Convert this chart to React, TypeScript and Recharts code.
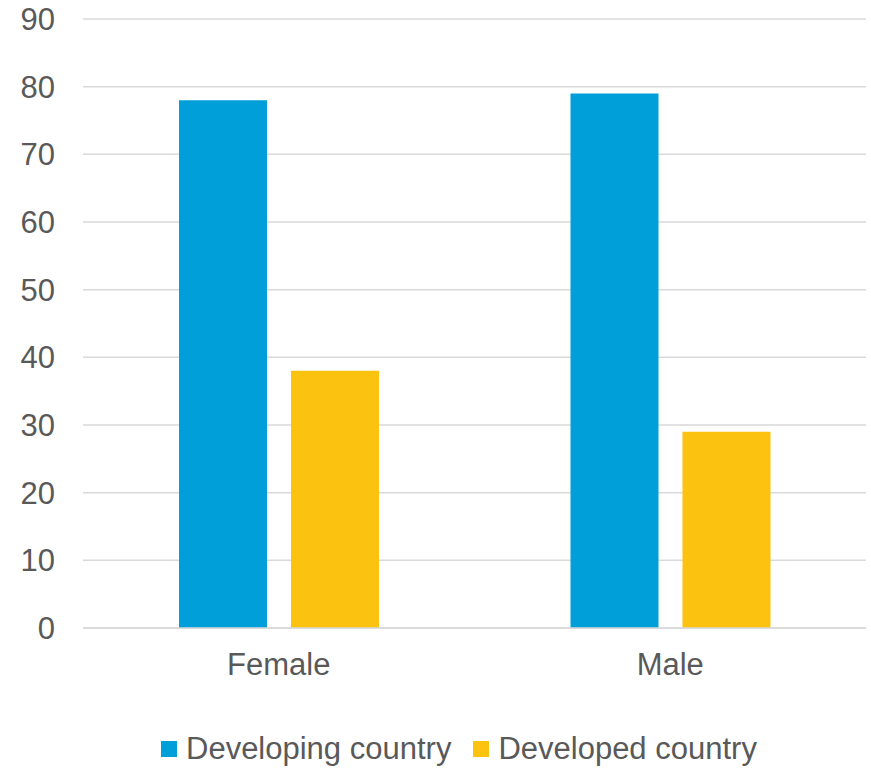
import { Bar, BarChart, CartesianGrid, Legend, XAxis, YAxis } from "recharts";

const categories = ["Female", "Male"];
const developing = [78, 79];
const developed = [38, 29];
const yTicks = [0, 10, 20, 30, 40, 50, 60, 70, 80, 90];

const SERIES = [
  { key: "developing", name: "Developing country", color: "#009FDA" },
  { key: "developed", name: "Developed country", color: "#FBC20F" },
];

const data = categories.map((c, i) => ({
  category: c,
  developing: developing[i],
  developed: developed[i],
}));

const TEXT = "#595959";
const FONT = "'Liberation Sans', Arial, sans-serif";

function ChartLegend() {
  return (
    <div
      style={{
        height: 40,
        display: "flex",
        alignItems: "center",
        paddingLeft: 161,
        fontFamily: FONT,
        fontSize: 31,
        color: TEXT,
      }}
    >
      {SERIES.map((s, i) => (
        <div key={s.key} style={{ display: "flex", alignItems: "center", marginRight: i === 0 ? 22 : 0 }}>
          <span style={{ width: 16, height: 16, background: s.color, marginRight: 9, display: "inline-block" }} />
          <span style={{ lineHeight: "40px" }}>{s.name}</span>
        </div>
      ))}
    </div>
  );
}

export default function App() {
  return (
    <div style={{ position: "absolute", left: 0, top: 0, width: 871, height: 769, background: "#fff" }}>
      <BarChart
        width={871}
        height={769}
        data={data}
        margin={{ top: 19, right: 5, bottom: 0, left: 0 }}
        barSize={88}
        barGap={24}
      >
        <CartesianGrid vertical={false} stroke="#D9D9D9" strokeWidth={1.5} />
        <XAxis
          dataKey="category"
          height={101}
          axisLine={{ stroke: "#D9D9D9", strokeWidth: 1.5 }}
          tickLine={false}
          tickSize={0}
          tickMargin={25}
          tick={{ fill: TEXT, fontSize: 31, fontFamily: FONT }}
        />
        <YAxis
          width={83}
          domain={[0, 90]}
          ticks={yTicks}
          axisLine={false}
          tickLine={false}
          tickSize={0}
          tickMargin={28}
          tick={{ fill: TEXT, fontSize: 31, fontFamily: FONT }}
        />
        <Legend verticalAlign="bottom" content={<ChartLegend />} />
        {SERIES.map((s) => (
          <Bar key={s.key} dataKey={s.key} name={s.name} fill={s.color} isAnimationActive={false} />
        ))}
      </BarChart>
    </div>
  );
}
